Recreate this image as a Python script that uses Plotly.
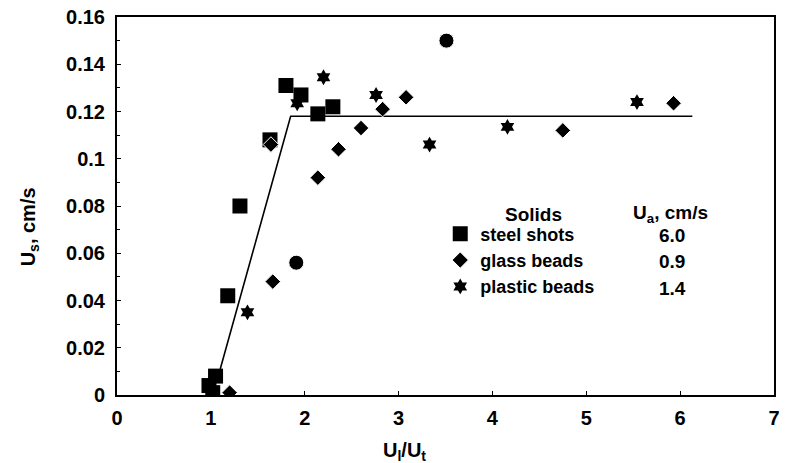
import plotly.graph_objects as go

# ---- data ----
steel_x = [0.98, 1.02, 1.05, 1.18, 1.31, 1.63, 1.80, 1.96, 2.14, 2.30]
steel_y = [0.004, 0.001, 0.008, 0.042, 0.080, 0.108, 0.131, 0.127, 0.119, 0.122]

glass_x = [1.20, 1.66, 1.91, 1.64, 2.14, 2.36, 2.60, 2.83, 3.08, 3.51, 4.75, 5.93]
glass_y = [0.001, 0.048, 0.056, 0.106, 0.092, 0.104, 0.113, 0.121, 0.126, 0.150, 0.112, 0.1235]
glass_sym = ["diamond", "diamond", "circle", "diamond", "diamond", "diamond",
             "diamond", "diamond", "diamond", "circle", "diamond", "diamond"]

plastic_x = [1.39, 1.92, 2.20, 2.76, 3.33, 4.16, 5.54]
plastic_y = [0.035, 0.1235, 0.1345, 0.127, 0.106, 0.1135, 0.124]

fit_x = [1.10, 1.85, 6.13]
fit_y = [0.011, 0.118, 0.118]

solids = ["steel shots", "glass beads", "plastic beads"]
ua_values = ["6.0", "0.9", "1.4"]

x_ticks = [0, 1, 2, 3, 4, 5, 6, 7]
y_ticks = [0, 0.02, 0.04, 0.06, 0.08, 0.1, 0.12, 0.14, 0.16]

FONT = "Liberation Sans, Arial, sans-serif"

fig = go.Figure()
fig.add_trace(go.Scatter(x=fit_x, y=fit_y, mode="lines",
                         line=dict(color="black", width=1.6), showlegend=False))
fig.add_trace(go.Scatter(x=steel_x, y=steel_y, mode="markers", name=solids[0],
                         marker=dict(symbol="square", size=15, color="black", opacity=1)))
fig.add_trace(go.Scatter(x=glass_x, y=glass_y, mode="markers", name=solids[1],
                         marker=dict(symbol=glass_sym,
                                     size=[12 if s == "diamond" else 15 for s in glass_sym],
                                     color="black", opacity=1)))
fig.add_trace(go.Scatter(x=plastic_x, y=plastic_y, mode="markers", name=solids[2],
                         marker=dict(symbol="hexagram", size=12, color="black", opacity=1)))

# legend header and Ua column
fig.add_annotation(xref="paper", yref="paper", x=0.634, y=0.478, text="Solids",
                   showarrow=False, xanchor="center", yanchor="middle")
fig.add_annotation(xref="paper", yref="paper", x=0.842, y=0.478, text="U<sub>a</sub>, cm/s",
                   showarrow=False, xanchor="center", yanchor="middle")
for i, v in enumerate(ua_values):
    fig.add_annotation(xref="paper", yref="paper", x=0.845, y=0.422 - i * 0.0695, text=v,
                       showarrow=False, xanchor="center", yanchor="middle")

# axis titles (offset as in the reference)
fig.add_annotation(xref="paper", yref="paper", x=0.437, y=-0.15,
                   text="U<sub>l</sub>/U<sub>t</sub>", showarrow=False,
                   font=dict(size=20), xanchor="center", yanchor="middle")
fig.add_annotation(xref="paper", yref="paper", x=-0.134, y=0.446,
                   text="U<sub>s</sub>, cm/s", showarrow=False, textangle=-90,
                   font=dict(size=20), xanchor="center", yanchor="middle")

axis_common = dict(showline=True, linecolor="black", linewidth=2, mirror=True,
                   ticks="inside", tickcolor="black", ticklen=4, showgrid=False,
                   zeroline=False)

fig.update_layout(
    width=786, height=463,
    margin=dict(l=117, r=6, t=12, b=68),
    paper_bgcolor="white", plot_bgcolor="white",
    font=dict(family=FONT, size=19, color="black", weight="bold"),
    xaxis=dict(range=[0, 7], tickvals=x_ticks, **axis_common, ticklabelstandoff=4,
               tickfont=dict(size=20)),
    yaxis=dict(range=[0, 0.16], tickvals=y_ticks, **axis_common, ticklabelstandoff=6,
               tickfont=dict(size=20),
               minor=dict(ticks="inside", ticklen=3, dtick=0.01, tickcolor="black")),
    legend=dict(x=0.492, y=0.475, xanchor="left", yanchor="top",
                bgcolor="rgba(0,0,0,0)", font=dict(size=18), tracegroupgap=0,
                itemwidth=30),
    showlegend=True,
)

fig.write_html("out.html")
